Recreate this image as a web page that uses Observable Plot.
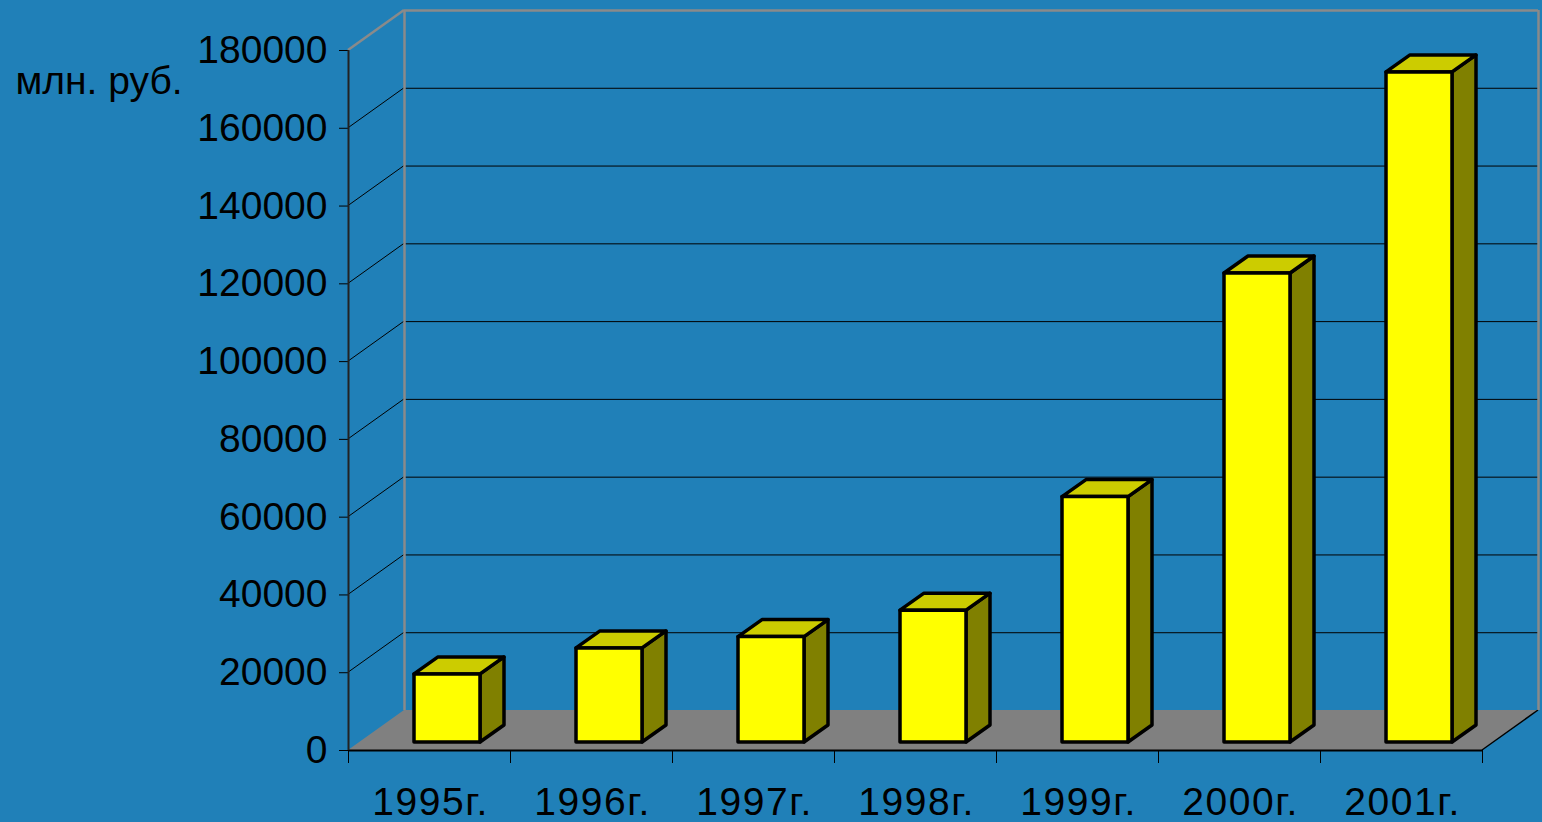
<!DOCTYPE html>
<html>
<head>
<meta charset="utf-8">
<script src="https://cdn.jsdelivr.net/npm/d3@7"></script>
<script src="https://cdn.jsdelivr.net/npm/@observablehq/plot@0.6"></script>
<style>
  html, body { margin: 0; padding: 0; background: #2080b8; overflow: hidden; }
  #chart svg { display: block; }
  #chart svg .cat-labels text { letter-spacing: 1.6px; }
</style>
</head>
<body>
<div id="chart"></div>
<script>
// ---- data ----
const years = ["1995г.", "1996г.", "1997г.", "1998г.", "1999г.", "2000г.", "2001г."];
const values = [17500, 24200, 27100, 33900, 63100, 120600, 172300];
const yTicks = [0, 20000, 40000, 60000, 80000, 100000, 120000, 140000, 160000, 180000];
const unitLabel = "млн. руб.";

const data = years.map((label, i) => ({ i, label, value: values[i] }));
const nCat = years.length;
const yMax = yTicks[yTicks.length - 1];

// 3D projection offsets (pixels)
const WALL_DX = 56, WALL_DY = -40;      // depth of the back wall
const BAR_DY = -8;                      // bar front face sits slightly behind the front plane
const BAR_DX3 = 24, BAR_DY3 = -17;      // bar depth
const INSET_L = 66, INSET_R = 30;
const BAR_STROKE = 3.5;

function getScales(args) {
  return args.find(a => a && typeof a.x === "function" && typeof a.y === "function");
}

// back-wall frame, floor, side-wall diagonals
function wallMark(...args) {
  const s = getScales(args);
  const x = s.x, y = s.y;
  const g = d3.create("svg:g");
  const x0 = x(0), x1 = x(nCat), y0 = y(0), yT = y(yMax);
  // floor
  g.append("path")
    .attr("d", `M${x0},${y0}L${x0 + WALL_DX},${y0 + WALL_DY}L${x1 + WALL_DX},${y0 + WALL_DY}L${x1},${y0}Z`)
    .attr("fill", "#808080");
  // side-wall diagonals at each tick
  for (const v of yTicks) {
    if (v === 0 || v === yMax) continue;
    g.append("line")
      .attr("x1", x0).attr("y1", y(v))
      .attr("x2", x0 + WALL_DX).attr("y2", y(v) + WALL_DY)
      .attr("stroke", "#000").attr("stroke-width", 1);
  }
  // top-left gray diagonal
  g.append("line")
    .attr("x1", x0).attr("y1", yT)
    .attr("x2", x0 + WALL_DX).attr("y2", yT + WALL_DY)
    .attr("stroke", "#8a8a8a").attr("stroke-width", 2.5);
  // right floor edge
  g.append("line")
    .attr("x1", x1).attr("y1", y0)
    .attr("x2", x1 + WALL_DX).attr("y2", y0 + WALL_DY)
    .attr("stroke", "#000").attr("stroke-width", 1.5);
  return g.node();
}

// bar sides and tops
function barDepthMark(...args) {
  const s = getScales(args);
  const x = s.x, y = s.y;
  const g = d3.create("svg:g")
    .attr("stroke", "#000").attr("stroke-width", BAR_STROKE).attr("stroke-linejoin", "round");
  for (const d of data) {
    const xl = x(d.i) + INSET_L, xr = x(d.i + 1) - INSET_R;
    const yb = y(0) + BAR_DY, yt = y(d.value) + BAR_DY;
    g.append("path")
      .attr("d", `M${xr},${yb}L${xr + BAR_DX3},${yb + BAR_DY3}L${xr + BAR_DX3},${yt + BAR_DY3}L${xr},${yt}Z`)
      .attr("fill", "#808000");
    g.append("path")
      .attr("d", `M${xl},${yt}L${xl + BAR_DX3},${yt + BAR_DY3}L${xr + BAR_DX3},${yt + BAR_DY3}L${xr},${yt}Z`)
      .attr("fill", "#cccc00");
  }
  return g.node();
}

const chart = Plot.plot({
  width: 1542,
  height: 822,
  marginLeft: 348,
  marginRight: 60,
  marginTop: 50,
  marginBottom: 72,
  style: {
    background: "#2080b8",
    color: "#000",
    fontFamily: "Arial, 'Liberation Sans', sans-serif",
    fontSize: "39px"
  },
  x: {
    domain: [0, nCat],
    ticks: d3.range(0, nCat + 1),
    tickSize: 13,
    tickFormat: () => "",
    label: null
  },
  y: {
    domain: [0, yMax],
    ticks: yTicks,
    tickSize: 9,
    tickPadding: 12,
    tickFormat: d => String(d),
    label: null
  },
  marks: [
    wallMark,
    // back-wall gridlines
    Plot.ruleY(yTicks.filter(v => v > 0 && v < yMax), { x1: 0, x2: nCat, dx: WALL_DX, dy: WALL_DY, stroke: "#000", strokeWidth: 1 }),
    // back-wall gray frame
    Plot.ruleY([yMax], { x1: 0, x2: nCat, dx: WALL_DX, dy: WALL_DY, stroke: "#8a8a8a", strokeWidth: 2.5 }),
    Plot.ruleX([0, nCat], { y1: 0, y2: yMax, dx: WALL_DX, dy: WALL_DY, stroke: "#8a8a8a", strokeWidth: 2.5 }),
    // bars
    barDepthMark,
    Plot.rect(data, {
      x1: d => d.i, x2: d => d.i + 1, y1: 0, y2: "value",
      insetLeft: INSET_L, insetRight: INSET_R, dy: BAR_DY,
      fill: "#ffff00", stroke: "#000", strokeWidth: BAR_STROKE, strokeLinejoin: "round"
    }),
    // front axes lines
    Plot.ruleY([0], { x1: 0, x2: nCat, stroke: "#000", strokeWidth: 2 }),
    Plot.ruleX([0], { y1: 0, y2: yMax, stroke: "#222", strokeWidth: 2 }),
    // category labels
    Plot.text(data, { x: d => d.i + 0.5, y: 0, text: "label", dy: 52, dx: 1, fill: "#000", className: "cat-labels" }),
    // unit label
    Plot.text([unitLabel], { frameAnchor: "top-left", dx: -333, dy: 31, textAnchor: "start", lineAnchor: "middle", fill: "#000" })
  ]
});

document.getElementById("chart").appendChild(chart);
</script>
</body>
</html>
